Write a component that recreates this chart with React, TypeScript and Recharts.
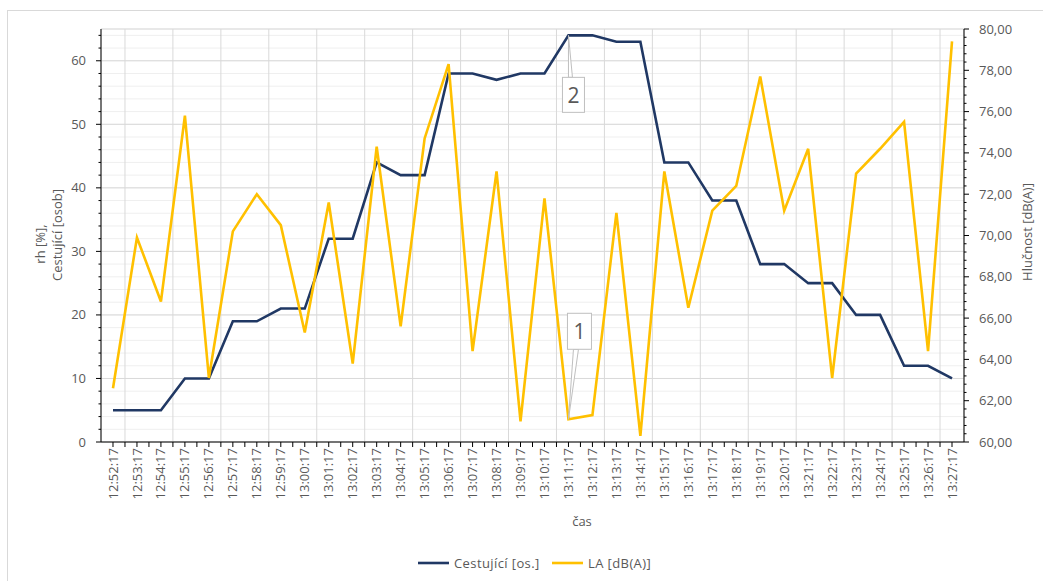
import React from 'react';
import { ComposedChart, Line, XAxis, YAxis, CartesianGrid, LabelList } from 'recharts';

// minute-by-minute samples
const times = [
  '12:52:17', '12:53:17', '12:54:17', '12:55:17', '12:56:17', '12:57:17', '12:58:17', '12:59:17',
  '13:00:17', '13:01:17', '13:02:17', '13:03:17', '13:04:17', '13:05:17', '13:06:17', '13:07:17',
  '13:08:17', '13:09:17', '13:10:17', '13:11:17', '13:12:17', '13:13:17', '13:14:17', '13:15:17',
  '13:16:17', '13:17:17', '13:18:17', '13:19:17', '13:20:17', '13:21:17', '13:22:17', '13:23:17',
  '13:24:17', '13:25:17', '13:26:17', '13:27:17',
];
const passengers = [
  5, 5, 5, 10, 10, 19, 19, 21, 21, 32, 32, 44, 42, 42, 58, 58, 57, 58, 58, 64,
  64, 63, 63, 44, 44, 38, 38, 28, 28, 25, 25, 20, 20, 12, 12, 10,
];
const noise = [
  62.6, 69.9, 66.8, 75.8, 63.1, 70.2, 72.0, 70.5, 65.3, 71.6, 63.8, 74.3, 65.6, 74.7, 78.3, 64.4,
  73.1, 61.0, 71.8, 61.1, 61.3, 71.1, 60.3, 73.1, 66.5, 71.2, 72.4, 77.7, 71.2, 74.2, 63.1, 73.0,
  74.2, 75.5, 64.4, 79.4,
];

// callouts on 13:11:17
const calloutIndex = 19;
const passengersCallout = '2';
const noiseCallout = '1';

const leftMajor = [0, 10, 20, 30, 40, 50, 60];
const leftTicks = Array.from({ length: 33 }, (_, i) => i * 2);
const rightTicks = Array.from({ length: 51 }, (_, i) => Math.round((60 + i * 0.4) * 10) / 10);
const xTicks = Array.from({ length: 71 }, (_, i) => i / 2);
const xGrid = Array.from({ length: 35 }, (_, i) => i + 0.5);

const data = times.map((t, i) => ({ idx: i, t, passengers: passengers[i], noise: noise[i] }));

const FONT = '"Open Sans", sans-serif';
const TEXT = '#595959';
const BLUE = '#203864';
const YELLOW = '#ffc000';

const LeftTick = (props: any) => {
  const { x, y, payload } = props;
  const v = payload.value;
  const ax = x + 8;
  const major = v % 10 === 0;
  return (
    <g>
      <line x1={ax - (major ? 5 : 2.5)} x2={ax} y1={y} y2={y} stroke="#000" strokeWidth={1} />
      {major && (
        <text x={ax - 15} y={y} dy="0.35em" textAnchor="end" fill={TEXT} fontSize={13} fontFamily={FONT}>
          {v}
        </text>
      )}
    </g>
  );
};

const RightTick = (props: any) => {
  const { x, y, payload } = props;
  const v = payload.value;
  const ax = x - 8;
  const major = Math.abs(v - Math.round(v)) < 0.01 && Math.round(v) % 2 === 0;
  return (
    <g>
      <line x1={ax} x2={ax + (major ? 5 : 2.5)} y1={y} y2={y} stroke="#000" strokeWidth={1} />
      {major && (
        <text x={ax + 15} y={y} dy="0.35em" textAnchor="start" fill={TEXT} fontSize={13} fontFamily={FONT}>
          {v.toFixed(2).replace('.', ',')}
        </text>
      )}
    </g>
  );
};

const BottomTick = (props: any) => {
  const { x, y, payload } = props;
  const v = payload.value;
  if (!Number.isInteger(v)) return <g />;
  return (
    <text
      x={x}
      y={y}
      dy="0.35em"
      textAnchor="end"
      transform={`rotate(-90, ${x}, ${y})`}
      fill={TEXT}
      fontSize={13}
      fontFamily={FONT}
    >
      {times[v]}
    </text>
  );
};

const Callout2 = (props: any) => {
  const { x, y, index } = props;
  if (index !== calloutIndex) return null;
  return (
    <g>
      <polygon points={`${x},${y} ${x},${y + 42} ${x + 4},${y + 42}`} fill="#fff" stroke="#bfbfbf" strokeWidth={1} />
      <rect x={x - 6} y={y + 42} width={22} height={35} fill="#fff" stroke="#bfbfbf" strokeWidth={1} />
      <text x={x + 5} y={y + 60} dy="0.35em" textAnchor="middle" fill={TEXT} fontSize={21} fontFamily={FONT}>
        {passengersCallout}
      </text>
    </g>
  );
};

const Callout1 = (props: any) => {
  const { x, y, index } = props;
  if (index !== calloutIndex) return null;
  return (
    <g>
      <polygon points={`${x},${y} ${x + 5},${y - 70} ${x + 10},${y - 70}`} fill="#fff" stroke="#bfbfbf" strokeWidth={1} />
      <rect x={x - 1} y={y - 106} width={24} height={36} fill="#fff" stroke="#bfbfbf" strokeWidth={1} />
      <text x={x + 11} y={y - 88} dy="0.35em" textAnchor="middle" fill={TEXT} fontSize={21} fontFamily={FONT}>
        {noiseCallout}
      </text>
    </g>
  );
};

export default function App() {
  return (
    <div style={{ position: 'absolute', left: 0, top: 0, width: 1043, height: 581, background: '#fff', overflow: 'hidden' }}>
      <svg width={1043} height={581} style={{ position: 'absolute', left: 0, top: 0 }}>
        <rect x={7.5} y={10.5} width={1100} height={600} fill="none" stroke="#d9d9d9" />
      </svg>
      <div style={{ position: 'absolute', left: 0, top: 0 }}>
        <ComposedChart width={1043} height={581} data={data} margin={{ top: 29, right: 0, bottom: 69, left: 0 }}>
          <XAxis
            xAxisId="x"
            dataKey="idx"
            type="number"
            domain={[-0.5, 35.5]}
            ticks={xTicks}
            interval={0}
            allowDataOverflow
            height={70}
            tickSize={5}
            tickMargin={1}
            tick={<BottomTick />}
            axisLine={{ stroke: '#000' }}
            tickLine={{ stroke: '#000' }}
          />
          <XAxis xAxisId="g" dataKey="idx" type="number" domain={[-0.5, 35.5]} ticks={xGrid} hide height={0} allowDataOverflow />
          <YAxis yAxisId="Lmaj" type="number" domain={[0, 65]} ticks={leftMajor} hide width={0} allowDataOverflow />
          <CartesianGrid xAxisId="g" yAxisId="L" vertical={false} stroke="#efefef" strokeWidth={1} />
          <CartesianGrid xAxisId="g" yAxisId="Lmaj" vertical={false} stroke="#d9d9d9" strokeWidth={1} />
          <CartesianGrid xAxisId="g" yAxisId="Lmaj" horizontal={false} stroke="#d9d9d9" strokeWidth={1} />
          <YAxis
            yAxisId="L"
            type="number"
            domain={[0, 65]}
            ticks={leftTicks}
            interval={0}
            width={101}
            tickSize={5}
            tickMargin={3}
            tickLine={false}
            tick={<LeftTick />}
            axisLine={{ stroke: '#000' }}
            allowDataOverflow
          />
          <YAxis
            yAxisId="R"
            orientation="right"
            type="number"
            domain={[60, 80]}
            ticks={rightTicks}
            interval={0}
            width={79}
            tickSize={5}
            tickMargin={3}
            tickLine={false}
            tick={<RightTick />}
            axisLine={{ stroke: '#000' }}
            allowDataOverflow
          />
          <Line
            xAxisId="x"
            yAxisId="L"
            dataKey="passengers"
            stroke={BLUE}
            strokeWidth={2.6}
            dot={false}
            isAnimationActive={false}
          >
            <LabelList dataKey="passengers" content={<Callout2 />} />
          </Line>
          <Line
            xAxisId="x"
            yAxisId="R"
            dataKey="noise"
            stroke={YELLOW}
            strokeWidth={2.6}
            dot={false}
            isAnimationActive={false}
          >
            <LabelList dataKey="noise" content={<Callout1 />} />
          </Line>
        </ComposedChart>
      </div>
      <svg width={1043} height={581} style={{ position: 'absolute', left: 0, top: 0, pointerEvents: 'none' }}>
        <g fill={TEXT} fontFamily={FONT} fontSize={13}>
          <text transform="rotate(-90, 40, 244)" x={40} y={244} textAnchor="middle" dy="0.35em">rh [%],</text>
          <text transform="rotate(-90, 57, 235)" x={57} y={235} textAnchor="middle" dy="0.35em">Cestující [osob]</text>
          <text transform="rotate(-90, 1027, 232)" x={1027} y={232} textAnchor="middle" dy="0.35em">Hlučnost [dB(A)]</text>
          <text x={582} y={521} textAnchor="middle" dy="0.35em">čas</text>
          <line x1={418} x2={449} y1={563} y2={563} stroke={BLUE} strokeWidth={2.6} />
          <text x={454} y={563} dy="0.35em" letterSpacing={0.4}>Cestující [os.]</text>
          <line x1={552} x2={583} y1={563} y2={563} stroke={YELLOW} strokeWidth={2.6} />
          <text x={588} y={563} dy="0.35em" letterSpacing={0.4}>LA [dB(A)]</text>
        </g>
      </svg>
    </div>
  );
}
